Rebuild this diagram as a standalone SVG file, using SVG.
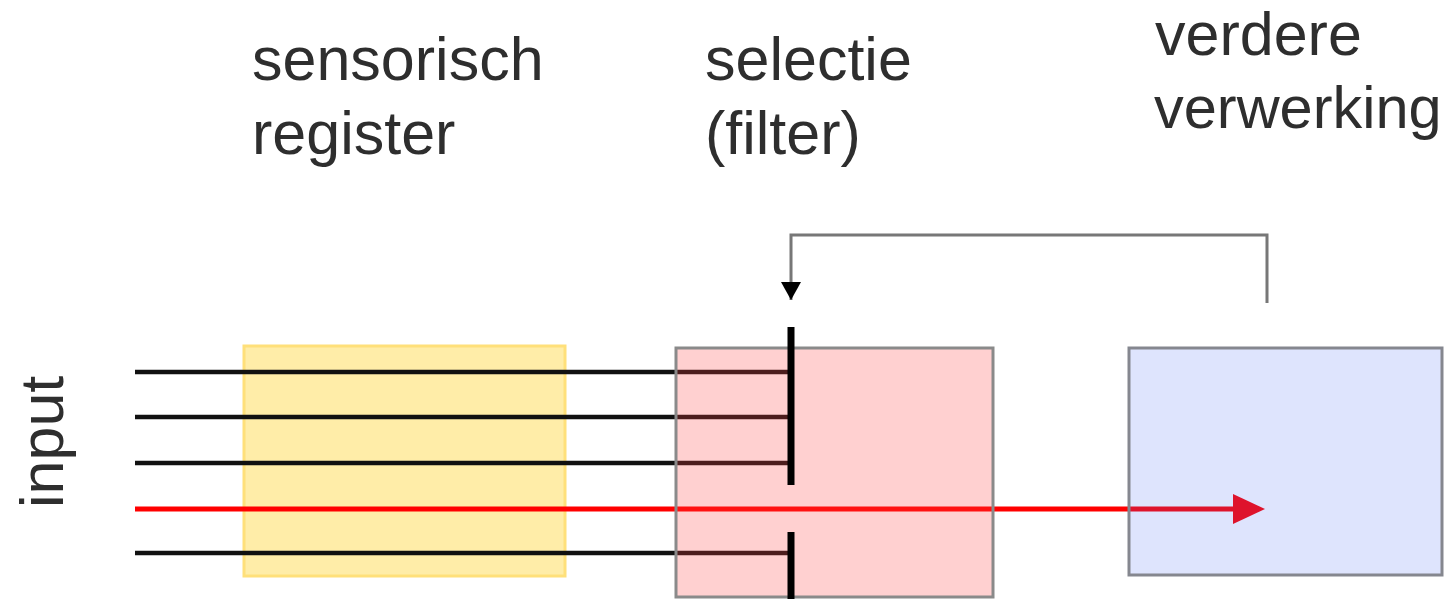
<svg xmlns="http://www.w3.org/2000/svg" width="1446" height="599" viewBox="0 0 1446 599">
  <defs>
    <style>
      .label { font-family: "Liberation Sans", Arial, sans-serif; font-size: 61px; fill: #2e2e2e; }
      .wire { stroke: #111; stroke-width: 4.5; fill: none; }
      .bar { stroke: #000; stroke-width: 7; fill: none; }
      .box { stroke-width: 3; }
    </style>
    <marker id="head" viewBox="0 0 18 20" refX="18" refY="10" markerWidth="18" markerHeight="20" markerUnits="userSpaceOnUse" orient="auto">
      <path d="M0,0 L18,10 L0,20 Z" fill="#000"/>
    </marker>
  </defs>

  <rect width="1446" height="599" fill="#fff"/>

  <!-- sensory register block -->
  <g id="sensorisch-register">
    <rect class="box" x="244" y="346" width="321" height="230" fill="#ffeda8" stroke="#ffe07a"/>
    <text class="label" x="252" y="80">sensorisch</text>
    <text class="label" x="252" y="154">register</text>
  </g>

  <!-- input channels -->
  <g id="connectors">
    <path class="wire" d="M135,372 H791 M135,417 H791 M135,463 H791 M135,553 H791"/>
    <!-- selected channel -->
    <line x1="135" y1="509" x2="1240" y2="509" stroke="#ff0000" stroke-width="5"/>
    <polygon points="1233,494 1265,509 1233,524" fill="#ff0000"/>
    <!-- feedback from further processing to the filter -->
    <path d="M1267,303 V235 H791 V300" fill="none" stroke="#777" stroke-width="3" marker-end="url(#head)"/>
  </g>

  <!-- selection (filter) block -->
  <g id="selectie-filter">
    <rect class="box" x="676" y="348" width="317" height="249" fill="#ff4343" fill-opacity="0.25" stroke="#8a8a8a"/>
    <path class="bar" d="M791,327 V485 M791,532 V599"/>
    <text class="label" x="705" y="80">selectie</text>
    <text class="label" x="705" y="154">(filter)</text>
  </g>

  <!-- further processing block -->
  <g id="verdere-verwerking">
    <rect class="box" x="1129" y="348" width="313" height="227" fill="#4a6cf5" fill-opacity="0.18" stroke="#85878f"/>
    <text class="label" x="1155" y="55">verdere</text>
    <text class="label" x="1154" y="128" style="font-size:59.5px">verwerking</text>
  </g>

  <!-- input label -->
  <g id="input">
    <text class="label" transform="translate(63,508) rotate(-90)">input</text>
  </g>
</svg>
